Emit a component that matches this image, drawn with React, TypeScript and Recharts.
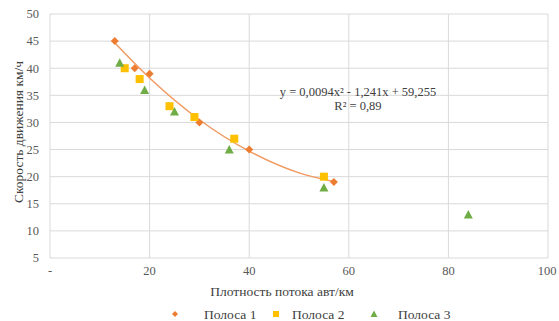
import { ScatterChart, Scatter, Line, XAxis, YAxis, CartesianGrid, Legend } from 'recharts';

const lane1 = [
    { x: 13, y: 45 },
    { x: 17, y: 40 },
    { x: 20, y: 39 },
    { x: 30, y: 30 },
    { x: 40, y: 25 },
    { x: 57, y: 19 },
];

const lane2 = [
    { x: 15, y: 40 },
    { x: 18, y: 38 },
    { x: 24, y: 33 },
    { x: 29, y: 31 },
    { x: 37, y: 27 },
    { x: 55, y: 20 },
];

const lane3 = [
    { x: 14, y: 41 },
    { x: 19, y: 36 },
    { x: 25, y: 32 },
    { x: 36, y: 25 },
    { x: 55, y: 18 },
    { x: 84, y: 13 },
];

// линия тренда
const trend = [
    { x: 13, y: 44.7 },
    { x: 20, y: 38.2 },
    { x: 30, y: 30.5 },
    { x: 40, y: 24.7 },
    { x: 50, y: 20.7 },
    { x: 57, y: 19.1 },
];

const xTicks = [0, 20, 40, 60, 80, 100];
const yTicks = [5, 10, 15, 20, 25, 30, 35, 40, 45, 50];
const seriesNames = ['Полоса 1', 'Полоса 2', 'Полоса 3'];
const equation = 'y = 0,0094x² - 1,241x + 59,255';
const rSquared = 'R² = 0,89';

const FONT = '"Liberation Serif", "Times New Roman", serif';
const ORANGE = '#ED7D31';
const YELLOW = '#FFC000';
const GREEN = '#70AD47';

const Diamond = ({ cx, cy }: any) => (
    <polygon points={`${cx},${cy - 4} ${cx + 4},${cy} ${cx},${cy + 4} ${cx - 4},${cy}`} fill={ORANGE} />
);
const Square = ({ cx, cy }: any) => (
    <rect x={cx - 4} y={cy - 4} width={8} height={8} fill={YELLOW} />
);
const Triangle = ({ cx, cy }: any) => (
    <polygon points={`${cx},${cy - 4.5} ${cx + 4.5},${cy + 4} ${cx - 4.5},${cy + 4}`} fill={GREEN} />
);

const XTick = ({ x, y, payload }: any) => (
    <text x={x} y={y} dy="0.71em" textAnchor="middle" fontFamily={FONT} fontSize={12.5} fill="#595959">
        {payload.value === 0 ? '-' : payload.value}
    </text>
);

const YTick = ({ x, y, payload }: any) => (
    <text x={x - 3} y={y} dy="0.35em" textAnchor="end" fontFamily={FONT} fontSize={12.5} fill="#595959">
        {payload.value}
    </text>
);

const YTitle = () => (
    <text x={18} y={132} transform="rotate(-90, 18, 132)" textAnchor="middle"
        dominantBaseline="central" fontFamily={FONT} fontSize={13.5} fill="#404040">
        Скорость движения км/ч
    </text>
);

const XTitle = () => (
    <text x={282} y={291} textAnchor="middle" dominantBaseline="central"
        fontFamily={FONT} fontSize={13.5} fill="#404040">
        Плотность потока авт/км
    </text>
);

const legendLayout = [
    { marker: 175, text: 204, color: ORANGE, kind: 'diamond' },
    { marker: 276, text: 292, color: YELLOW, kind: 'square' },
    { marker: 374, text: 398, color: GREEN, kind: 'triangle' },
];

const LY = 21;

const LegendContent = () => (
    <svg width={559} height={28} style={{ display: 'block', overflow: 'visible' }}>
        {legendLayout.map((it, i) => (
            <g key={i}>
                {it.kind === 'diamond' && (
                    <polygon points={`${it.marker},${LY - 3} ${it.marker + 3},${LY} ${it.marker},${LY + 3} ${it.marker - 3},${LY}`} fill={it.color} />
                )}
                {it.kind === 'square' && <rect x={it.marker - 3} y={LY - 3} width={6} height={6} fill={it.color} />}
                {it.kind === 'triangle' && (
                    <polygon points={`${it.marker},${LY - 3.5} ${it.marker + 3.5},${LY + 3} ${it.marker - 3.5},${LY + 3}`} fill={it.color} />
                )}
                <text x={it.text} y={LY} dominantBaseline="central" fontFamily={FONT} fontSize={13.5} fill="#404040">
                    {seriesNames[i]}
                </text>
            </g>
        ))}
    </svg>
);

export default function App() {
    return (
        <div style={{ position: 'absolute', left: 0, top: 0, width: 559, height: 321, background: '#fff', fontFamily: FONT }}>
            <ScatterChart width={559} height={321} margin={{ top: 14, right: 11, left: 0, bottom: 5 }}>
                <CartesianGrid stroke="#D9D9D9" />
                <XAxis type="number" dataKey="x" domain={[0, 100]} ticks={xTicks} axisLine={false} tickLine={false}
                    height={35} tick={<XTick />} label={<XTitle />} />
                <YAxis type="number" dataKey="y" domain={[5, 50]} ticks={yTicks} axisLine={false} tickLine={false}
                    width={50} tick={<YTick />} label={<YTitle />} />
                <Legend verticalAlign="bottom" height={23} content={<LegendContent />} />
                <Line data={trend} dataKey="y" type="monotone" stroke="#F19A62" strokeWidth={1.5}
                    dot={false} isAnimationActive={false} legendType="none" />
                <Scatter name={seriesNames[0]} data={lane1} shape={<Diamond />} isAnimationActive={false} />
                <Scatter name={seriesNames[1]} data={lane2} shape={<Square />} isAnimationActive={false} />
                <Scatter name={seriesNames[2]} data={lane3} shape={<Triangle />} isAnimationActive={false} />
            </ScatterChart>
            <div style={{ position: 'absolute', left: 272, top: 85, width: 172, fontFamily: FONT, fontSize: 12.5, color: '#404040', textAlign: 'center', lineHeight: '14px', whiteSpace: 'nowrap' }}>
                <div>{equation}</div>
                <div>{rSquared}</div>
            </div>
        </div>
    );
}
